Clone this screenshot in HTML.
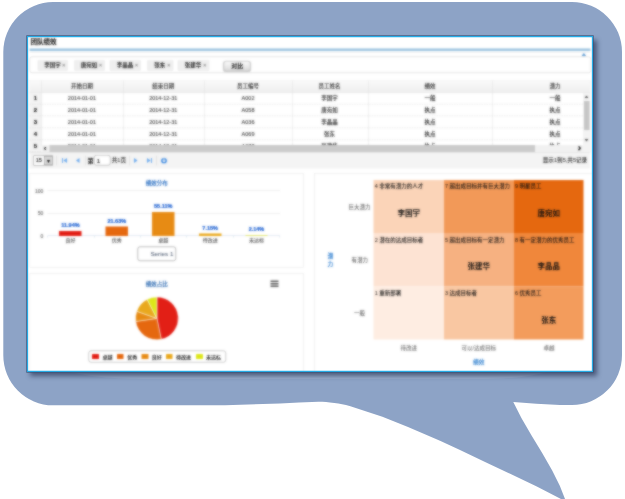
<!DOCTYPE html>
<html lang="zh"><head><meta charset="utf-8"><title>团队绩效</title>
<style>
html,body{margin:0;padding:0;background:#fff;}
body{width:625px;height:499px;overflow:hidden;position:relative;font-family:"Liberation Sans","Noto Sans CJK SC",sans-serif;}
#bubble{position:absolute;left:0;top:0;}
#shadow{position:absolute;left:30.4px;top:39.6px;width:566.4px;height:336.6px;background:rgba(38,52,84,.68);filter:blur(2.4px);}
#frame{position:absolute;left:26.8px;top:35.8px;width:566.6px;height:336.4px;background:#fff;overflow:hidden;}
#fborder{position:absolute;left:26.8px;top:35.8px;width:566.6px;height:336.4px;box-shadow:inset 0 0 0 1.15px #24abe6,0 0 0 .7px rgba(62,82,118,.9);}
#shot{position:absolute;left:0.1999999999999993px;top:0.20000000000000284px;width:1140px;height:680px;transform:scale(.5);transform-origin:0 0;filter:url(#soft);background:#fff;}
#shot div{position:absolute;}
#shot .t{white-space:nowrap;-webkit-text-stroke:.2px currentColor;}
</style></head><body>
<svg width="0" height="0" style="position:absolute"><defs><filter id="soft" x="0" y="0" width="100%" height="100%" color-interpolation-filters="sRGB"><feGaussianBlur stdDeviation="1.8" result="b"/><feComposite in="SourceGraphic" in2="b" operator="arithmetic" k1="0" k2="0.22" k3="0.78" k4="0"/></filter></defs></svg>
<svg id="bubble" width="625" height="499" viewBox="0 0 625 499"><path d="M 53 2 L 572 2 A 50 50 0 0 1 622 52 L 622 355 A 50 50 0 0 1 572 405 L 560 405 Q 536 404 513.3 402 L 521.4 417.9 L 531.7 435.8 L 541.9 452.5 L 552.2 470.4 L 559.8 485.8 L 567 504 L 561 499 L 536.8 486.5 L 511.2 474.2 L 485.6 462.2 L 460 449.9 L 440 440.8 L 408 427 L 382.4 416.8 L 366.4 411.4 L 350.4 406.2 C 344 404.4 340 403.6 334.4 403 C 328 402.2 324 401.8 318.4 401.8 L 299 402.4 L 280 403.4 L 225 405.2 L 53 405.3 A 50 50 0 0 1 3.3 355 L 3.3 52 A 50 50 0 0 1 53 2 Z" fill="#8da3c6"/><path d="M 66 371 C 95 378.6 125 379 165 379 L 470 379 C 505 379 528 378 550 371 Z" fill="rgba(255,255,255,.13)"/></svg>
<div id="shadow"></div>
<div id="frame"><div id="shot">
<div class="t" style="left:7.2px;text-align:left;top:3.4px;font-size:13px;line-height:15.6px;color:#000;font-weight:500;-webkit-text-stroke:.3px #000;">团队绩效</div>
<div class="" style="left:4.8px;top:25.2px;width:1122.4px;height:4.6px;background:#9cc4e0;"></div>
<div class="" style="left:5.2px;top:32.6px;width:1122.0px;height:1.2px;background:#e2e2e2;"></div>
<svg style="position:absolute;left:1109.2px;top:34.4px" width="9.2" height="6.0" viewBox="0 0 10 6"><path d="M0 6 L5 0 L10 6 Z" fill="#5b9bd5"/></svg>
<div class="" style="left:5.2px;top:41.2px;width:1122.8px;height:33.2px;border:1.6px solid #c9c9c9;border-radius:5px;background:#fff;box-sizing:border-box;"></div>
<div class="" style="left:20.8px;top:47.2px;width:61.6px;height:22.8px;background:#efefef;border-radius:3px;"></div>
<div class="t" style="left:-249.2px;width:600px;text-align:center;top:52.0px;font-size:11px;line-height:13.2px;color:#1a1a1a;font-weight:bold;-webkit-text-stroke:0;">李国宇</div>
<div class="t" style="left:-226.8px;width:600px;text-align:center;top:53.0px;font-size:10px;line-height:12.0px;color:#888;font-weight:500;">×</div>
<div class="" style="left:93.6px;top:47.2px;width:62.6px;height:22.8px;background:#efefef;border-radius:3px;"></div>
<div class="t" style="left:-175.9px;width:600px;text-align:center;top:52.0px;font-size:11px;line-height:13.2px;color:#1a1a1a;font-weight:bold;-webkit-text-stroke:0;">唐宛如</div>
<div class="t" style="left:-153.0px;width:600px;text-align:center;top:53.0px;font-size:10px;line-height:12.0px;color:#888;font-weight:500;">×</div>
<div class="" style="left:165.4px;top:47.2px;width:62.6px;height:22.8px;background:#efefef;border-radius:3px;"></div>
<div class="t" style="left:-104.1px;width:600px;text-align:center;top:52.0px;font-size:11px;line-height:13.2px;color:#1a1a1a;font-weight:bold;-webkit-text-stroke:0;">李晶晶</div>
<div class="t" style="left:-81.19999999999999px;width:600px;text-align:center;top:53.0px;font-size:10px;line-height:12.0px;color:#888;font-weight:500;">×</div>
<div class="" style="left:239.8px;top:47.2px;width:53.0px;height:22.8px;background:#efefef;border-radius:3px;"></div>
<div class="t" style="left:-34.5px;width:600px;text-align:center;top:52.0px;font-size:11px;line-height:13.2px;color:#1a1a1a;font-weight:bold;-webkit-text-stroke:0;">张东</div>
<div class="t" style="left:-16.399999999999977px;width:600px;text-align:center;top:53.0px;font-size:10px;line-height:12.0px;color:#888;font-weight:500;">×</div>
<div class="" style="left:301.2px;top:47.2px;width:63.6px;height:22.8px;background:#efefef;border-radius:3px;"></div>
<div class="t" style="left:32.19999999999999px;width:600px;text-align:center;top:52.0px;font-size:11px;line-height:13.2px;color:#1a1a1a;font-weight:bold;-webkit-text-stroke:0;">张建华</div>
<div class="t" style="left:55.60000000000002px;width:600px;text-align:center;top:53.0px;font-size:10px;line-height:12.0px;color:#888;font-weight:500;">×</div>
<div class="" style="left:393.0px;top:50.0px;width:54.2px;height:20.6px;border:1.6px solid #a8a8a8;border-radius:6px;background:linear-gradient(#fbfbfb,#d8d8d8);box-sizing:border-box;box-shadow:0 1px 2px rgba(0,0,0,.25);"></div>
<div class="t" style="left:120.39999999999998px;width:600px;text-align:center;top:53.0px;font-size:12px;line-height:14.399999999999999px;color:#000;font-weight:500;">对比</div>
<div class="" style="left:4.0px;top:88.4px;width:1123.2px;height:144.4px;border:1px solid #e4e4e4;box-sizing:border-box;background:#fff;"></div>
<div class="" style="left:5.0px;top:89.2px;width:1121.4px;height:24.4px;background:linear-gradient(#fafafa,#efefef);border-bottom:1px solid #ddd;box-sizing:border-box;"></div>
<div class="" style="left:5.0px;top:113.6px;width:24.4px;height:118.4px;background:#f3f3f3;"></div>
<div class="" style="left:29.4px;top:89.2px;width:1.0px;height:130.8px;background:#dedede;"></div>
<div class="" style="left:193.4px;top:89.2px;width:1.0px;height:130.8px;background:#dedede;"></div>
<div class="" style="left:355.0px;top:89.2px;width:1.0px;height:130.8px;background:#dedede;"></div>
<div class="" style="left:530.0px;top:89.2px;width:1.0px;height:130.8px;background:#dedede;"></div>
<div class="" style="left:683.2px;top:89.2px;width:1.0px;height:130.8px;background:#dedede;"></div>
<div class="" style="left:931.2px;top:89.2px;width:1.0px;height:130.8px;background:#dedede;"></div>
<div class="t" style="left:-190.2px;width:600px;text-align:center;top:93.6px;font-size:11px;line-height:13.2px;color:#2a2a2a;font-weight:500;-webkit-text-stroke:.1px;">开始日期</div>
<div class="t" style="left:-27.600000000000023px;width:600px;text-align:center;top:93.6px;font-size:11px;line-height:13.2px;color:#2a2a2a;font-weight:500;-webkit-text-stroke:.1px;">结束日期</div>
<div class="t" style="left:142.10000000000002px;width:600px;text-align:center;top:93.6px;font-size:11px;line-height:13.2px;color:#2a2a2a;font-weight:500;-webkit-text-stroke:.1px;">员工编号</div>
<div class="t" style="left:305.0px;width:600px;text-align:center;top:93.6px;font-size:11px;line-height:13.2px;color:#2a2a2a;font-weight:500;-webkit-text-stroke:.1px;">员工姓名</div>
<div class="t" style="left:505.79999999999995px;width:600px;text-align:center;top:93.6px;font-size:11px;line-height:13.2px;color:#2a2a2a;font-weight:500;-webkit-text-stroke:.1px;">绩效</div>
<div class="t" style="left:756.2px;width:600px;text-align:center;top:93.6px;font-size:11px;line-height:13.2px;color:#2a2a2a;font-weight:500;-webkit-text-stroke:.1px;">潜力</div>
<div class="" style="left:5.0px;top:136.0px;width:1107.4px;height:1.0px;border-top:1px dashed #d2d2d2;height:0;"></div>
<div class="t" style="left:-283.2px;width:600px;text-align:center;top:117.4px;font-size:12px;line-height:14.399999999999999px;color:#000;font-weight:bold;">1</div>
<div class="t" style="left:-190.2px;width:600px;text-align:center;top:118.0px;font-size:11px;line-height:13.2px;color:#262626;font-weight:500;-webkit-text-stroke:.1px;">2014-01-01</div>
<div class="t" style="left:-27.600000000000023px;width:600px;text-align:center;top:118.0px;font-size:11px;line-height:13.2px;color:#262626;font-weight:500;-webkit-text-stroke:.1px;">2014-12-31</div>
<div class="t" style="left:142.10000000000002px;width:600px;text-align:center;top:118.0px;font-size:11px;line-height:13.2px;color:#262626;font-weight:500;-webkit-text-stroke:.1px;">A002</div>
<div class="t" style="left:305.0px;width:600px;text-align:center;top:118.0px;font-size:11px;line-height:13.2px;color:#262626;font-weight:500;-webkit-text-stroke:.1px;">李国宇</div>
<div class="t" style="left:505.79999999999995px;width:600px;text-align:center;top:118.0px;font-size:11px;line-height:13.2px;color:#262626;font-weight:500;-webkit-text-stroke:.1px;">一般</div>
<div class="t" style="left:756.2px;width:600px;text-align:center;top:118.0px;font-size:11px;line-height:13.2px;color:#262626;font-weight:500;-webkit-text-stroke:.1px;">一般</div>
<div class="" style="left:5.0px;top:159.4px;width:1107.4px;height:1.0px;border-top:1px dashed #d2d2d2;height:0;"></div>
<div class="t" style="left:-283.2px;width:600px;text-align:center;top:140.8px;font-size:12px;line-height:14.399999999999999px;color:#000;font-weight:bold;">2</div>
<div class="t" style="left:-190.2px;width:600px;text-align:center;top:141.4px;font-size:11px;line-height:13.2px;color:#262626;font-weight:500;-webkit-text-stroke:.1px;">2014-01-01</div>
<div class="t" style="left:-27.600000000000023px;width:600px;text-align:center;top:141.4px;font-size:11px;line-height:13.2px;color:#262626;font-weight:500;-webkit-text-stroke:.1px;">2014-12-31</div>
<div class="t" style="left:142.10000000000002px;width:600px;text-align:center;top:141.4px;font-size:11px;line-height:13.2px;color:#262626;font-weight:500;-webkit-text-stroke:.1px;">A058</div>
<div class="t" style="left:305.0px;width:600px;text-align:center;top:141.4px;font-size:11px;line-height:13.2px;color:#262626;font-weight:500;-webkit-text-stroke:.1px;">唐宛如</div>
<div class="t" style="left:505.79999999999995px;width:600px;text-align:center;top:141.4px;font-size:11px;line-height:13.2px;color:#262626;font-weight:500;-webkit-text-stroke:.1px;">执点</div>
<div class="t" style="left:756.2px;width:600px;text-align:center;top:141.4px;font-size:11px;line-height:13.2px;color:#262626;font-weight:500;-webkit-text-stroke:.1px;">执点</div>
<div class="" style="left:5.0px;top:183.2px;width:1107.4px;height:1.0px;border-top:1px dashed #d2d2d2;height:0;"></div>
<div class="t" style="left:-283.2px;width:600px;text-align:center;top:164.6px;font-size:12px;line-height:14.399999999999999px;color:#000;font-weight:bold;">3</div>
<div class="t" style="left:-190.2px;width:600px;text-align:center;top:165.2px;font-size:11px;line-height:13.2px;color:#262626;font-weight:500;-webkit-text-stroke:.1px;">2014-01-01</div>
<div class="t" style="left:-27.600000000000023px;width:600px;text-align:center;top:165.2px;font-size:11px;line-height:13.2px;color:#262626;font-weight:500;-webkit-text-stroke:.1px;">2014-12-31</div>
<div class="t" style="left:142.10000000000002px;width:600px;text-align:center;top:165.2px;font-size:11px;line-height:13.2px;color:#262626;font-weight:500;-webkit-text-stroke:.1px;">A036</div>
<div class="t" style="left:305.0px;width:600px;text-align:center;top:165.2px;font-size:11px;line-height:13.2px;color:#262626;font-weight:500;-webkit-text-stroke:.1px;">李晶晶</div>
<div class="t" style="left:505.79999999999995px;width:600px;text-align:center;top:165.2px;font-size:11px;line-height:13.2px;color:#262626;font-weight:500;-webkit-text-stroke:.1px;">执点</div>
<div class="t" style="left:756.2px;width:600px;text-align:center;top:165.2px;font-size:11px;line-height:13.2px;color:#262626;font-weight:500;-webkit-text-stroke:.1px;">执点</div>
<div class="" style="left:5.0px;top:207.2px;width:1107.4px;height:1.0px;border-top:1px dashed #d2d2d2;height:0;"></div>
<div class="t" style="left:-283.2px;width:600px;text-align:center;top:188.6px;font-size:12px;line-height:14.399999999999999px;color:#000;font-weight:bold;">4</div>
<div class="t" style="left:-190.2px;width:600px;text-align:center;top:189.2px;font-size:11px;line-height:13.2px;color:#262626;font-weight:500;-webkit-text-stroke:.1px;">2014-01-01</div>
<div class="t" style="left:-27.600000000000023px;width:600px;text-align:center;top:189.2px;font-size:11px;line-height:13.2px;color:#262626;font-weight:500;-webkit-text-stroke:.1px;">2014-12-31</div>
<div class="t" style="left:142.10000000000002px;width:600px;text-align:center;top:189.2px;font-size:11px;line-height:13.2px;color:#262626;font-weight:500;-webkit-text-stroke:.1px;">A069</div>
<div class="t" style="left:305.0px;width:600px;text-align:center;top:189.2px;font-size:11px;line-height:13.2px;color:#262626;font-weight:500;-webkit-text-stroke:.1px;">张东</div>
<div class="t" style="left:505.79999999999995px;width:600px;text-align:center;top:189.2px;font-size:11px;line-height:13.2px;color:#262626;font-weight:500;-webkit-text-stroke:.1px;">执点</div>
<div class="t" style="left:756.2px;width:600px;text-align:center;top:189.2px;font-size:11px;line-height:13.2px;color:#262626;font-weight:500;-webkit-text-stroke:.1px;">执点</div>
<div class="" style="left:5.0px;top:230.6px;width:1107.4px;height:1.0px;border-top:1px dashed #d2d2d2;height:0;"></div>
<div class="t" style="left:-283.2px;width:600px;text-align:center;top:212.0px;font-size:12px;line-height:14.399999999999999px;color:#000;font-weight:bold;">5</div>
<div class="t" style="left:-190.2px;width:600px;text-align:center;top:212.6px;font-size:11px;line-height:13.2px;color:#262626;font-weight:500;-webkit-text-stroke:.1px;">2014-01-01</div>
<div class="t" style="left:-27.600000000000023px;width:600px;text-align:center;top:212.6px;font-size:11px;line-height:13.2px;color:#262626;font-weight:500;-webkit-text-stroke:.1px;">2014-12-31</div>
<div class="t" style="left:142.10000000000002px;width:600px;text-align:center;top:212.6px;font-size:11px;line-height:13.2px;color:#262626;font-weight:500;-webkit-text-stroke:.1px;">A078</div>
<div class="t" style="left:305.0px;width:600px;text-align:center;top:212.6px;font-size:11px;line-height:13.2px;color:#262626;font-weight:500;-webkit-text-stroke:.1px;">张建华</div>
<div class="t" style="left:505.79999999999995px;width:600px;text-align:center;top:212.6px;font-size:11px;line-height:13.2px;color:#262626;font-weight:500;-webkit-text-stroke:.1px;">执点</div>
<div class="t" style="left:756.2px;width:600px;text-align:center;top:212.6px;font-size:11px;line-height:13.2px;color:#262626;font-weight:500;-webkit-text-stroke:.1px;">执点</div>
<div class="" style="left:29.4px;top:217.6px;width:1083.0px;height:14.8px;background:#f1f1f1;"></div>
<div class="" style="left:45.2px;top:218.4px;width:971.2px;height:13.2px;background:#cbcbcb;"></div>
<div class="t" style="left:-264.0px;width:600px;text-align:center;top:214.8px;font-size:16px;line-height:19.2px;color:#000;font-weight:bold;">‹</div>
<div class="t" style="left:804.8px;width:600px;text-align:center;top:213.4px;font-size:18px;line-height:21.599999999999998px;color:#000;font-weight:bold;-webkit-text-stroke:.6px;">›</div>
<div class="" style="left:1112.4px;top:113.6px;width:14.0px;height:118.8px;background:#f3f3f3;"></div>
<div class="" style="left:1113.6px;top:130.4px;width:11.6px;height:58.0px;background:#c6c6c6;"></div>
<svg style="position:absolute;left:1115.4px;top:119.2px" width="8.0" height="5.2" viewBox="0 0 10 6"><path d="M0 6 L5 0 L10 6 Z" fill="#555"/></svg>
<svg style="position:absolute;left:1115.4px;top:206.4px" width="8.0" height="5.2" viewBox="0 0 10 6"><path d="M0 0 L5 6 L10 0 Z" fill="#555"/></svg>
<div class="" style="left:5.0px;top:232.8px;width:1121.4px;height:32.4px;background:#f4f4f4;border-top:1px solid #ddd;box-sizing:border-box;"></div>
<div class="" style="left:12.8px;top:238.6px;width:38.8px;height:20.2px;border:1.6px solid #8a8a8a;background:#fff;box-sizing:border-box;"></div>
<div class="t" style="left:17.6px;text-align:left;top:242.2px;font-size:11px;line-height:13.2px;color:#000;font-weight:500;">15</div>
<div class="" style="left:34.4px;top:240.0px;width:16.4px;height:17.6px;background:#dadada;border:1.4px solid #8c8c8c;box-sizing:border-box;"></div>
<div class="t" style="left:-257.2px;width:600px;text-align:center;top:241.8px;font-size:12px;line-height:14.399999999999999px;color:#000;font-weight:500;">▾</div>
<div class="" style="left:59.2px;top:238.8px;width:1.0px;height:20.0px;background:#cfcfcf;"></div>
<div class="" style="left:116.6px;top:238.8px;width:1.0px;height:20.0px;background:#cfcfcf;"></div>
<div class="" style="left:203.6px;top:238.8px;width:1.0px;height:20.0px;background:#cfcfcf;"></div>
<div class="" style="left:259.0px;top:238.8px;width:1.0px;height:20.0px;background:#cfcfcf;"></div>
<svg style="position:absolute;left:68.6px;top:242.8px" width="12.0" height="12.0" viewBox="0 0 12 12"><rect x="1" y="1" width="2" height="10" fill="#6aa9ee"/><path d="M11 1 L4 6 L11 11 Z" fill="#6aa9ee"/></svg>
<svg style="position:absolute;left:95.2px;top:242.8px" width="12.0" height="12.0" viewBox="0 0 12 12"><path d="M10 1 L3 6 L10 11 Z" fill="#6aa9ee"/></svg>
<svg style="position:absolute;left:212.4px;top:242.8px" width="12.0" height="12.0" viewBox="0 0 12 12"><path d="M2 1 L9 6 L2 11 Z" fill="#6aa9ee"/></svg>
<svg style="position:absolute;left:238.6px;top:242.8px" width="12.0" height="12.0" viewBox="0 0 12 12"><rect x="9" y="1" width="2" height="10" fill="#6aa9ee"/><path d="M1 1 L8 6 L1 11 Z" fill="#6aa9ee"/></svg>
<svg style="position:absolute;left:267.8px;top:242.8px" width="12.0" height="12.0" viewBox="0 0 12 12"><circle cx="6" cy="6.5" r="4.3" fill="none" stroke="#2a7fe0" stroke-width="2.7"/><rect x="4.6" y="0" width="2.8" height="4.5" fill="#f4f4f4"/><rect x="5.3" y="0.5" width="1.6" height="5" fill="#2f86e0"/></svg>
<div class="t" style="left:-172.8px;width:600px;text-align:center;top:241.6px;font-size:12px;line-height:14.399999999999999px;color:#000;font-weight:500;">第</div>
<div class="" style="left:134.0px;top:238.4px;width:32.8px;height:20.6px;border:1.6px solid #8f8f8f;border-radius:5px;background:#fff;box-sizing:border-box;"></div>
<div class="t" style="left:139.6px;text-align:left;top:241.6px;font-size:12px;line-height:14.399999999999999px;color:#000;font-weight:500;">1</div>
<div class="t" style="left:169.4px;text-align:left;top:242.08px;font-size:11.2px;line-height:13.44px;color:#1a1a1a;font-weight:500;-webkit-text-stroke:0;">共1页</div>
<div class="t" style="left:520.4000000000001px;width:600px;text-align:right;top:240.68px;font-size:11.2px;line-height:13.44px;color:#111;font-weight:500;-webkit-text-stroke:0;">显示1到5,共5记录</div>
<div class="" style="left:5.4px;top:274.4px;width:547.4px;height:188.8px;border:1.4px solid #e3e3e3;box-sizing:border-box;background:#fff;"></div>
<div class="t" style="left:-40.39999999999998px;width:600px;text-align:center;top:287.4px;font-size:11px;line-height:13.2px;color:#256bc0;font-weight:500;">绩效分布</div>
<div class="" style="left:41.2px;top:309.1px;width:464.4px;height:1.0px;background:#dcdcdc;"></div>
<div class="" style="left:41.2px;top:354.3px;width:464.4px;height:1.0px;background:#dcdcdc;"></div>
<div class="" style="left:41.2px;top:399.2px;width:464.4px;height:1.0px;background:#c5d3e6;"></div>
<div class="t" style="left:-567.4px;width:600px;text-align:right;top:303.6px;font-size:10px;line-height:12.0px;color:#666;font-weight:500;">100</div>
<div class="t" style="left:-567.4px;width:600px;text-align:right;top:348.8px;font-size:10px;line-height:12.0px;color:#666;font-weight:500;">50</div>
<div class="t" style="left:-567.4px;width:600px;text-align:right;top:393.6px;font-size:10px;line-height:12.0px;color:#666;font-weight:500;">0</div>
<div class="" style="left:64.4px;top:389.8px;width:45.0px;height:9.8px;background:#e21f16;"></div>
<div class="t" style="left:-213.1px;width:600px;text-align:center;top:371.8px;font-size:11px;line-height:13.2px;color:#1259cf;font-weight:bold;-webkit-text-stroke:.35px;">11.94%</div>
<div class="t" style="left:-213.1px;width:600px;text-align:center;top:403.4px;font-size:10px;line-height:12.0px;color:#555;font-weight:500;-webkit-text-stroke:0;">良好</div>
<div class="" style="left:157.0px;top:381.2px;width:45.0px;height:18.4px;background:#e5680f;"></div>
<div class="t" style="left:-120.5px;width:600px;text-align:center;top:363.2px;font-size:11px;line-height:13.2px;color:#1259cf;font-weight:bold;-webkit-text-stroke:.35px;">21.63%</div>
<div class="t" style="left:-120.5px;width:600px;text-align:center;top:403.4px;font-size:10px;line-height:12.0px;color:#555;font-weight:500;-webkit-text-stroke:0;">优秀</div>
<div class="" style="left:250.0px;top:350.6px;width:44.8px;height:49.0px;background:#e78b14;"></div>
<div class="t" style="left:-27.600000000000023px;width:600px;text-align:center;top:332.6px;font-size:11px;line-height:13.2px;color:#1259cf;font-weight:bold;-webkit-text-stroke:.35px;">55.11%</div>
<div class="t" style="left:-27.600000000000023px;width:600px;text-align:center;top:403.4px;font-size:10px;line-height:12.0px;color:#555;font-weight:500;-webkit-text-stroke:0;">卓越</div>
<div class="" style="left:343.8px;top:394.6px;width:45.0px;height:5.0px;background:#e9a81d;"></div>
<div class="t" style="left:66.30000000000001px;width:600px;text-align:center;top:376.6px;font-size:11px;line-height:13.2px;color:#1259cf;font-weight:bold;-webkit-text-stroke:.35px;">7.15%</div>
<div class="t" style="left:66.30000000000001px;width:600px;text-align:center;top:403.4px;font-size:10px;line-height:12.0px;color:#555;font-weight:500;-webkit-text-stroke:0;">待改进</div>
<div class="" style="left:436.6px;top:398.2px;width:44.6px;height:1.4px;background:#dfe36a;"></div>
<div class="t" style="left:158.89999999999998px;width:600px;text-align:center;top:380.2px;font-size:11px;line-height:13.2px;color:#1259cf;font-weight:bold;-webkit-text-stroke:.35px;">2.14%</div>
<div class="t" style="left:158.89999999999998px;width:600px;text-align:center;top:403.4px;font-size:10px;line-height:12.0px;color:#555;font-weight:500;-webkit-text-stroke:0;">未达标</div>
<div class="" style="left:40.7px;top:399.6px;width:1.0px;height:3.2px;background:#c5d3e6;"></div>
<div class="" style="left:133.58px;top:399.6px;width:1.0px;height:3.2px;background:#c5d3e6;"></div>
<div class="" style="left:226.46px;top:399.6px;width:1.0px;height:3.2px;background:#c5d3e6;"></div>
<div class="" style="left:319.34px;top:399.6px;width:1.0px;height:3.2px;background:#c5d3e6;"></div>
<div class="" style="left:412.22px;top:399.6px;width:1.0px;height:3.2px;background:#c5d3e6;"></div>
<div class="" style="left:505.1px;top:399.6px;width:1.0px;height:3.2px;background:#c5d3e6;"></div>
<div class="" style="left:221.2px;top:420.6px;width:76.8px;height:29.2px;border:1.6px solid #7c7c7c;border-radius:5px;box-sizing:border-box;background:#fff;"></div>
<div class="t" style="left:-30.19999999999999px;width:600px;text-align:center;top:427.5px;font-size:12.5px;line-height:15.0px;color:#34445c;font-weight:400;-webkit-text-stroke:0;">Series 1</div>
<div class="" style="left:5.4px;top:474.4px;width:547.4px;height:213.6px;border:1.4px solid #e3e3e3;box-sizing:border-box;background:#fff;"></div>
<div class="t" style="left:-40.39999999999998px;width:600px;text-align:center;top:489.2px;font-size:11px;line-height:13.2px;color:#2a68b0;font-weight:500;">绩效占比</div>
<div class="" style="left:487.2px;top:489.0px;width:15.6px;height:3.4px;background:#5c5c5c;"></div>
<div class="" style="left:487.2px;top:493.8px;width:15.6px;height:3.4px;background:#5c5c5c;"></div>
<div class="" style="left:487.2px;top:498.6px;width:15.6px;height:3.4px;background:#5c5c5c;"></div>
<svg style="position:absolute;left:215.2px;top:520.0px" width="89.6" height="89.6" viewBox="-22.4 -22.4 44.8 44.8"><path d="M0 0 L0.000 -21.400 A21.4 21.4 0 0 1 4.340 20.955 Z" fill="#e21f16" stroke="#fff" stroke-width="0.5"/><path d="M0 0 L4.340 20.955 A21.4 21.4 0 0 1 -21.181 3.052 Z" fill="#e5680f" stroke="#fff" stroke-width="0.5"/><path d="M0 0 L-21.181 3.052 A21.4 21.4 0 0 1 -20.173 -7.143 Z" fill="#e78b14" stroke="#fff" stroke-width="0.5"/><path d="M0 0 L-20.173 -7.143 A21.4 21.4 0 0 1 -9.715 -19.068 Z" fill="#e9a81d" stroke="#fff" stroke-width="0.5"/><path d="M0 0 L-9.715 -19.068 A21.4 21.4 0 0 1 -0.000 -21.400 Z" fill="#dde619" stroke="#fff" stroke-width="0.5"/></svg>
<div class="" style="left:123.2px;top:628.8px;width:274.8px;height:24.0px;border:1.5px solid #9a9a9a;border-radius:5px;box-sizing:border-box;background:#fff;"></div>
<div class="" style="left:130.4px;top:636.0px;width:13.4px;height:10.4px;background:#e21f16;border-radius:1px;"></div>
<div class="t" style="left:151.2px;text-align:left;top:635.6px;font-size:10px;line-height:12.0px;color:#222;font-weight:bold;-webkit-text-stroke:0;">卓越</div>
<div class="" style="left:179.6px;top:636.0px;width:13.4px;height:10.4px;background:#e5680f;border-radius:1px;"></div>
<div class="t" style="left:200.4px;text-align:left;top:635.6px;font-size:10px;line-height:12.0px;color:#222;font-weight:bold;-webkit-text-stroke:0;">优秀</div>
<div class="" style="left:229.2px;top:636.0px;width:13.4px;height:10.4px;background:#e78b14;border-radius:1px;"></div>
<div class="t" style="left:249.6px;text-align:left;top:635.6px;font-size:10px;line-height:12.0px;color:#222;font-weight:bold;-webkit-text-stroke:0;">良好</div>
<div class="" style="left:277.6px;top:636.0px;width:13.6px;height:10.4px;background:#e9a81d;border-radius:1px;"></div>
<div class="t" style="left:298.0px;text-align:left;top:635.6px;font-size:10px;line-height:12.0px;color:#222;font-weight:bold;-webkit-text-stroke:0;">待改进</div>
<div class="" style="left:337.6px;top:636.0px;width:14.0px;height:10.4px;background:#dde619;border-radius:1px;"></div>
<div class="t" style="left:358.0px;text-align:left;top:635.6px;font-size:10px;line-height:12.0px;color:#222;font-weight:bold;-webkit-text-stroke:0;">未达标</div>
<div class="" style="left:574.4px;top:273.6px;width:571.6px;height:414.4px;border:1.4px solid #e3e3e3;box-sizing:border-box;background:#fff;"></div>
<div class="" style="left:693.4px;top:288.0px;width:140.4px;height:106.4px;background:#fbd4b8;"></div>
<div class="t" style="left:695.4px;text-align:left;top:294.2px;font-size:11px;line-height:13.2px;color:#111;font-weight:500;-webkit-text-stroke:0;">4 非常有潜力的人才</div>
<div class="" style="left:833.8px;top:288.0px;width:140.2px;height:106.4px;background:#f29958;"></div>
<div class="t" style="left:835.8px;text-align:left;top:294.2px;font-size:11px;line-height:13.2px;color:#111;font-weight:500;-webkit-text-stroke:0;">7 超出成目标并有巨大潜力</div>
<div class="" style="left:974.0px;top:288.0px;width:139.2px;height:106.4px;background:#e5680f;"></div>
<div class="t" style="left:976.0px;text-align:left;top:294.2px;font-size:11px;line-height:13.2px;color:#111;font-weight:500;-webkit-text-stroke:0;">9 明星员工</div>
<div class="" style="left:693.4px;top:394.4px;width:140.4px;height:106.4px;background:#fde3d3;"></div>
<div class="t" style="left:695.4px;text-align:left;top:400.6px;font-size:11px;line-height:13.2px;color:#111;font-weight:500;-webkit-text-stroke:0;">2 潜在的达成目标者</div>
<div class="" style="left:833.8px;top:394.4px;width:140.2px;height:106.4px;background:#f6b181;"></div>
<div class="t" style="left:835.8px;text-align:left;top:400.6px;font-size:11px;line-height:13.2px;color:#111;font-weight:500;-webkit-text-stroke:0;">5 超出成目标有一定潜力</div>
<div class="" style="left:974.0px;top:394.4px;width:139.2px;height:106.4px;background:#f0873b;"></div>
<div class="t" style="left:976.0px;text-align:left;top:400.6px;font-size:11px;line-height:13.2px;color:#111;font-weight:500;-webkit-text-stroke:0;">8 有一定潜力的优秀员工</div>
<div class="" style="left:693.4px;top:500.8px;width:140.4px;height:106.4px;background:#feede2;"></div>
<div class="t" style="left:695.4px;text-align:left;top:507.0px;font-size:11px;line-height:13.2px;color:#111;font-weight:500;-webkit-text-stroke:0;">1 重新部署</div>
<div class="" style="left:833.8px;top:500.8px;width:140.2px;height:106.4px;background:#f9c7a2;"></div>
<div class="t" style="left:835.8px;text-align:left;top:507.0px;font-size:11px;line-height:13.2px;color:#111;font-weight:500;-webkit-text-stroke:0;">3 达成目标者</div>
<div class="" style="left:974.0px;top:500.8px;width:139.2px;height:106.4px;background:#f39c5c;"></div>
<div class="t" style="left:976.0px;text-align:left;top:507.0px;font-size:11px;line-height:13.2px;color:#111;font-weight:500;-webkit-text-stroke:0;">6 优秀员工</div>
<div class="t" style="left:463.6px;width:600px;text-align:center;top:345.0px;font-size:15px;line-height:18.0px;color:#111;font-weight:bold;-webkit-text-stroke:0;">李国宇</div>
<div class="t" style="left:743.4000000000001px;width:600px;text-align:center;top:345.0px;font-size:15px;line-height:18.0px;color:#111;font-weight:bold;-webkit-text-stroke:0;">唐宛如</div>
<div class="t" style="left:603.6px;width:600px;text-align:center;top:450.6px;font-size:15px;line-height:18.0px;color:#111;font-weight:bold;-webkit-text-stroke:0;">张建华</div>
<div class="t" style="left:743.4000000000001px;width:600px;text-align:center;top:450.6px;font-size:15px;line-height:18.0px;color:#111;font-weight:bold;-webkit-text-stroke:0;">李晶晶</div>
<div class="t" style="left:743.4000000000001px;width:600px;text-align:center;top:558.8px;font-size:15px;line-height:18.0px;color:#111;font-weight:bold;-webkit-text-stroke:0;">张东</div>
<div class="t" style="left:87.20000000000005px;width:600px;text-align:right;top:335.4px;font-size:11px;line-height:13.2px;color:#666;font-weight:500;-webkit-text-stroke:0;">巨大潜力</div>
<div class="t" style="left:81.79999999999995px;width:600px;text-align:right;top:441.6px;font-size:11px;line-height:13.2px;color:#666;font-weight:500;-webkit-text-stroke:0;">有潜力</div>
<div class="t" style="left:76.0px;width:600px;text-align:right;top:548.0px;font-size:11px;line-height:13.2px;color:#666;font-weight:500;-webkit-text-stroke:0;">一般</div>
<div class="t" style="left:306.6px;width:600px;text-align:center;top:432.7px;font-size:11.5px;line-height:13.799999999999999px;color:#2f7fd0;font-weight:500;">潜</div>
<div class="t" style="left:306.6px;width:600px;text-align:center;top:448.9px;font-size:11.5px;line-height:13.799999999999999px;color:#2f7fd0;font-weight:500;">力</div>
<div class="t" style="left:463.6px;width:600px;text-align:center;top:617.0px;font-size:11px;line-height:13.2px;color:#707070;font-weight:500;-webkit-text-stroke:0;">待改进</div>
<div class="t" style="left:603.6px;width:600px;text-align:center;top:617.0px;font-size:11px;line-height:13.2px;color:#707070;font-weight:500;-webkit-text-stroke:0;">可以/达成目标</div>
<div class="t" style="left:744.0px;width:600px;text-align:center;top:617.0px;font-size:11px;line-height:13.2px;color:#707070;font-weight:500;-webkit-text-stroke:0;">卓越</div>
<div class="t" style="left:603.6px;width:600px;text-align:center;top:645.9px;font-size:11.5px;line-height:13.799999999999999px;color:#3483d0;font-weight:500;">绩效</div>
</div></div><div id="fborder"></div>
</body></html>
